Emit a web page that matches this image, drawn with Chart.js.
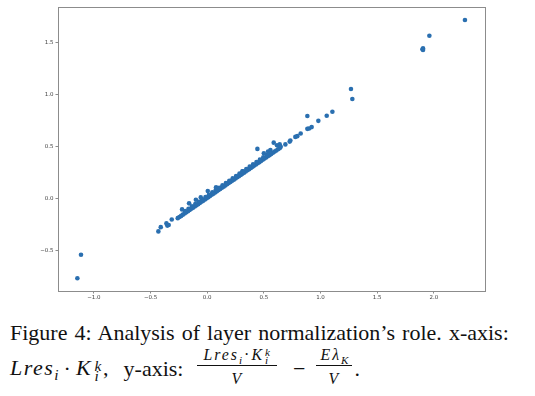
<!DOCTYPE html>
<html>
<head>
<meta charset="utf-8">
<script src="https://cdn.jsdelivr.net/npm/chart.js@4"></script>
<style>
html,body{margin:0;padding:0;background:#fff;width:535px;height:396px;overflow:hidden}
#wrap{position:absolute;left:0;top:0;width:535px;height:302px}
.cap{position:absolute;left:10px;font-family:'Liberation Serif','Times New Roman',serif;font-size:22px;line-height:20px;color:#111;white-space:nowrap}
#l1{word-spacing:1.6px}
#l2{word-spacing:8.5px}
.m{font-style:italic;letter-spacing:1.5px}
.k{font-style:italic;letter-spacing:2px}
.op{margin:0 5px}
.sb{display:inline-block;position:relative;width:0.55em;height:0;font-size:0.7em;font-style:italic;margin-left:2px;letter-spacing:0}
.sb .u{position:absolute;left:0;bottom:0.16em;line-height:1em}
.sb .d{position:absolute;left:0;top:-0.51em;line-height:1em}
.sub{font-size:0.7em;font-style:italic;vertical-align:-0.33em;line-height:0;letter-spacing:0}
.ya{margin-left:1px}
.fr{display:inline-block;vertical-align:-8px;text-align:center;font-size:0.72em;line-height:0.9em;word-spacing:0}
.fr .nu{display:block;border-bottom:1px solid #111;padding:0 6px 2px 6px}
.fr .de{display:block;padding-top:6px}
.fr .m{letter-spacing:2px}
.fr .k{letter-spacing:2px}
.fr .op{margin:0 2px}
.fr .sb{margin-left:1px}
.fr2 .nu{padding:0 4px 2px 4px}
.mn{margin:0 11px 0 16px}
.dt{margin-left:2px}
</style>
</head>
<body>
<div id="wrap"><canvas id="c" width="535" height="302" style="width:535px;height:302px"></canvas></div>
<div class="cap" id="l1" style="top:322.6px">Figure 4: Analysis of layer normalization’s role. x-axis:</div>
<div class="cap" id="l2" style="top:348.3px"><span class="m">Lres</span><span class="sub">i</span><span class="op">·</span><span class="k">K</span><span class="sb"><span class="u">k</span><span class="d">i</span></span>, <span class="ya">y-axis:</span> <span class="fr"><span class="nu"><span class="m">Lres</span><span class="sub">i</span><span class="op">·</span><span class="k">K</span><span class="sb"><span class="u">k</span><span class="d">i</span></span></span><span class="de"><span class="m">V</span></span></span><span class="mn">−</span><span class="fr fr2"><span class="nu"><span class="m">Eλ</span><span class="sub">K</span></span><span class="de"><span class="m">V</span></span></span><span class="dt">.</span></div>
<script>
// Dense band of points (read along the main diagonal streak)
const bandX = [-0.26,-0.245,-0.23,-0.215,-0.20,-0.185,-0.17,-0.155,-0.14,-0.125,-0.11,-0.095,-0.08,-0.065,-0.05,-0.035,-0.02,-0.005,0.01,0.025,0.04,0.055,0.07,0.085,0.10,0.115,0.13,0.145,0.16,0.175,0.19,0.205,0.22,0.235,0.25,0.265,0.28,0.295,0.31,0.325,0.34,0.355,0.37,0.385,0.40,0.415,0.43,0.445,0.46,0.475,0.49,0.505,0.52,0.535,0.55,0.565,0.58,0.595,0.61,0.625,0.64,
-0.195,-0.165,-0.135,-0.105,-0.075,-0.045,-0.015,0.015,0.045,0.075,0.105,0.135,0.165,0.195,0.225,0.255,0.285,0.315,0.345,0.375,0.405,0.435,0.465,0.495,0.525];
const bandY = [-0.187,-0.176,-0.165,-0.153,-0.142,-0.131,-0.120,-0.109,-0.097,-0.086,-0.075,-0.064,-0.053,-0.041,-0.030,-0.019,-0.008,0.003,0.014,0.026,0.037,0.048,0.059,0.070,0.082,0.093,0.104,0.115,0.126,0.138,0.149,0.160,0.171,0.182,0.194,0.205,0.216,0.227,0.238,0.249,0.261,0.272,0.283,0.294,0.305,0.317,0.328,0.339,0.350,0.361,0.373,0.384,0.395,0.406,0.417,0.428,0.440,0.451,0.462,0.473,0.484,
-0.118,-0.096,-0.074,-0.051,-0.029,-0.007,0.016,0.038,0.061,0.083,0.105,0.128,0.150,0.172,0.195,0.217,0.240,0.262,0.284,0.307,0.329,0.352,0.374,0.396,0.419];
// Individually visible scattered points
const outX = [-1.146,-1.114,-0.431,-0.410,-0.360,-0.352,-0.340,-0.313,-0.222,-0.160,-0.100,-0.057,0.005,0.078,0.310,0.443,0.500,0.537,0.558,0.587,0.616,0.640,0.649,0.690,0.728,0.734,0.778,0.795,0.825,0.884,0.899,0.922,0.981,0.884,1.055,1.105,1.269,1.281,1.900,1.905,1.905,1.961,2.275];
const outY = [-0.763,-0.538,-0.314,-0.273,-0.237,-0.258,-0.252,-0.199,-0.103,-0.045,-0.010,0.012,0.073,0.110,0.262,0.477,0.435,0.452,0.467,0.537,0.512,0.520,0.498,0.520,0.547,0.558,0.592,0.599,0.625,0.669,0.673,0.686,0.746,0.793,0.795,0.833,1.051,0.955,1.432,1.440,1.426,1.561,1.712];
const xTicks = [-1.0,-0.5,0.0,0.5,1.0,1.5,2.0];
const yTicks = [-0.5,0.0,0.5,1.0,1.5];
const xRange = [-1.317,2.452];
const yRange = [-0.885,1.837];

const pts = [];
bandX.forEach((x,i)=>pts.push({x:x,y:bandY[i]}));
outX.forEach((x,i)=>pts.push({x:x,y:outY[i]}));

const fmt = v => (v<0?'\u2212':'') + Math.abs(v).toFixed(1);

const frame = {
  id:'frame',
  afterDraw(chart){
    const a = chart.chartArea, ctx = chart.ctx;
    ctx.save();
    ctx.strokeStyle = '#8c8c8c';
    ctx.lineWidth = 1;
    ctx.strokeRect(Math.round(a.left)+0.5, Math.round(a.top)+0.5, Math.round(a.right-a.left), Math.round(a.bottom-a.top));
    ctx.restore();
  }
};

new Chart(document.getElementById('c'), {
  type:'scatter',
  data:{datasets:[{data:pts, backgroundColor:'#2a6fb0', borderWidth:0, pointRadius:2.3, pointHoverRadius:2.3}]},
  options:{
    responsive:false, animation:false,
    layout:{padding:{top:7,right:50,left:0,bottom:0}},
    plugins:{legend:{display:false},tooltip:{enabled:false}},
    scales:{
      x:{type:'linear', min:xRange[0], max:xRange[1],
        afterBuildTicks:s=>{s.ticks = xTicks.map(v=>({value:v}));},
        afterFit:s=>{s.height = 11;},
        grid:{drawOnChartArea:false, drawTicks:true, tickLength:2.5, color:'#8c8c8c'},
        border:{display:true, color:'#8c8c8c'},
        ticks:{autoSkip:false, maxRotation:0, padding:1, color:'#444', font:{family:'DejaVu Sans', size:5.5}, callback:v=>fmt(v)}
      },
      y:{type:'linear', min:yRange[0], max:yRange[1],
        afterBuildTicks:s=>{s.ticks = yTicks.map(v=>({value:v}));},
        afterFit:s=>{s.width = 58;},
        grid:{drawOnChartArea:false, drawTicks:true, tickLength:2.5, color:'#8c8c8c'},
        border:{display:true, color:'#8c8c8c'},
        ticks:{autoSkip:false, padding:2, color:'#444', font:{family:'DejaVu Sans', size:5.5}, callback:v=>fmt(v)}
      }
    }
  },
  plugins:[frame]
});
</script>
</body>
</html>
